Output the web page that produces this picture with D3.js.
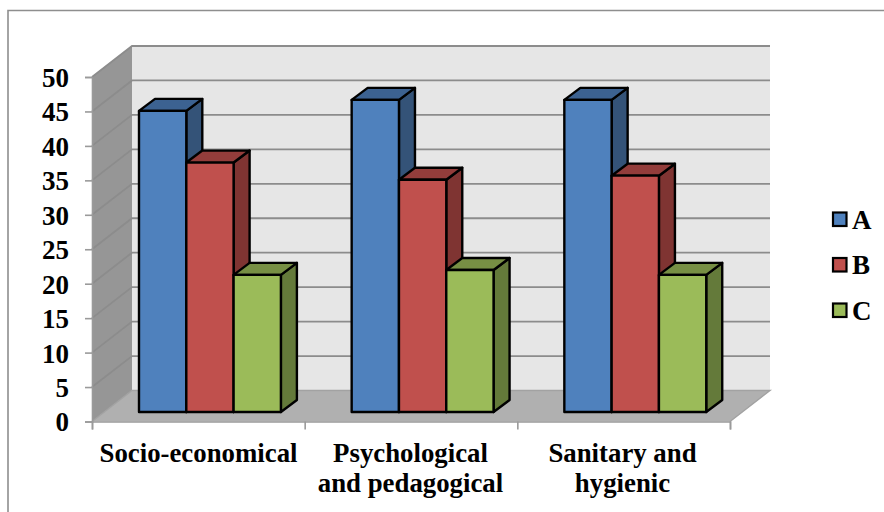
<!DOCTYPE html>
<html>
<head>
<meta charset="utf-8">
<script src="https://cdnjs.cloudflare.com/ajax/libs/d3/7.8.5/d3.min.js"></script>
<style>
html,body{margin:0;padding:0;background:#fff}
svg{display:block}
text{font-family:"Liberation Serif",serif;font-weight:700;fill:#000}
</style>
</head>
<body>
<svg id="chart" width="884" height="512"></svg>
<script>
const categories = [["Socio-economical"], ["Psychological", "and pedagogical"], ["Sanitary and", "hygienic"]];
const seriesNames = ["A", "B", "C"];
const seriesA = [43.7, 45.3, 45.3];
const seriesB = [36.2, 33.7, 34.3];
const seriesC = [19.9, 20.6, 19.9];
const yTicks = [0, 5, 10, 15, 20, 25, 30, 35, 40, 45, 50];

const fills = {A: "#4f81bd", B: "#c0504d", C: "#9bbb59"};
const tops = {A: "#3c6291", B: "#933d3b", C: "#778f44"};
const sides = {A: "#345378", B: "#7f3432", C: "#647a3a"};

const svg = d3.select("#chart");

// Frame around the chart area; the right and bottom sides run off the page
svg.append("path").attr("d", "M884,10.5H8V512").attr("fill", "none").attr("stroke", "#8e8e8e").attr("stroke-width", 1.6);

// Front plane of the box, and the shift from front plane to back wall
const x = d3.scaleLinear().domain([0, 3]).range([92, 730]);
const y = d3.scaleLinear().domain([0, 50]).range([421.5, 77]);
const depth = {dx: 40, dy: -31};

// Side wall, floor, back wall
const [x0, x1] = x.range();
const yb = y(0), yt = y(50);
svg.append("path").attr("fill", "#969696")
  .attr("d", `M${x0},${yb}V${yt}L${x0 + depth.dx},${yt + depth.dy}V${yb + depth.dy}Z`);
svg.append("path").attr("fill", "#e6e6e6")
  .attr("d", `M${x0 + depth.dx},${yt + depth.dy}H${x1 + depth.dx}V${yb + depth.dy}H${x0 + depth.dx}Z`);
svg.append("path").attr("fill", "#b0b0b0")
  .attr("d", `M${x0},${yb}H${x1}L${x1 + depth.dx},${yb + depth.dy}H${x0 + depth.dx}Z`);

// Gridlines: along the side wall, then across the back wall
const grid = svg.append("g").attr("fill", "none");
yTicks.forEach(t => {
  const py = y(t);
  const d = t === 0
    ? `M${x0},${py}L${x0 + depth.dx},${py + depth.dy}H${x1 + depth.dx}L${x1},${py}`
    : `M${x0},${py}L${x0 + depth.dx},${py + depth.dy}H${x1 + depth.dx}`;
  grid.append("path").attr("d", d).attr("stroke-width", t === 0 ? 1.4 : 1.8)
    .attr("stroke", t === 0 ? "#a2a2a2" : "#8c8c8c");
});

// Axes
const yAxis = d3.axisLeft(y).tickValues(yTicks).tickSize(7).tickPadding(16);
const gy = svg.append("g").attr("transform", `translate(${x0},0)`).call(yAxis);
gy.selectAll("text").style("font-size", "27px").attr("dy", "0.35em");
gy.selectAll(".tick line, .domain").attr("stroke", "#9a9a9a").attr("stroke-width", 1.6);

const xAxis = d3.axisBottom(x).tickValues([0, 1, 2, 3]).tickSize(8).tickFormat("");
const gx = svg.append("g").attr("transform", `translate(0,${yb})`).call(xAxis);
gx.selectAll(".tick line, .domain").attr("stroke", "#9a9a9a").attr("stroke-width", 1.6);

// Category labels, centred under each group
const labelCentres = [198.5, 410.5, 622.5];
const labelY = [462, 492];
categories.forEach((lines, i) => {
  lines.forEach((s, j) => {
    svg.append("text").attr("x", labelCentres[i]).attr("y", labelY[j])
      .attr("text-anchor", "middle").style("font-size", "26.8px").text(s);
  });
});

// Bars stand slightly in from the front plane and are shallower than the box
const barInset = {dx: 0, dy: -9.5};
const barDepth = {dx: 16, dy: -12};
const barValue = d3.scaleLinear().domain([0, 50]).range([y(0) + barInset.dy, y(50) + barInset.dy]);
const groupPad = 47;
const barW = 47.3;

const barsLayer = svg.append("g").attr("stroke", "#000").attr("stroke-width", 2.4).attr("stroke-linejoin", "round");
[seriesA, seriesB, seriesC].forEach((vals, s) => {
  const key = seriesNames[s];
  vals.forEach((v, c) => {
    const l = x(c) + groupPad + s * barW, r = l + barW;
    const t = barValue(v), b = barValue(0);
    const {dx, dy} = barDepth;
    const g = barsLayer.append("g");
    g.append("path").attr("fill", sides[key]).attr("d", `M${r},${t}L${r + dx},${t + dy}V${b + dy}L${r},${b}Z`);
    g.append("path").attr("fill", tops[key]).attr("d", `M${l},${t}L${l + dx},${t + dy}H${r + dx}L${r},${t}Z`);
    g.append("rect").attr("fill", fills[key]).attr("x", l).attr("y", t).attr("width", barW).attr("height", b - t);
  });
});

// Legend
const legendY = d3.scalePoint().domain(seriesNames).range([219.5, 310.5]);
seriesNames.forEach(n => {
  const cy = legendY(n);
  svg.append("rect").attr("x", 833).attr("y", cy - 7).attr("width", 13.5).attr("height", 13.5)
    .attr("fill", fills[n]).attr("stroke", "#000").attr("stroke-width", 2.2);
  svg.append("text").attr("x", 852).attr("y", cy + 9).style("font-size", "27px").text(n);
});
</script>
</body>
</html>
